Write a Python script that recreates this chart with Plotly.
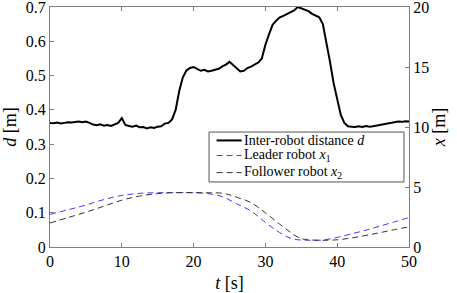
import numpy as np
import plotly.graph_objects as go

# Inter-robot distance d [m], sampled every 0.5 s
t_d = [i * 0.5 for i in range(101)]
d = [0.362, 0.361, 0.363, 0.360, 0.362, 0.364, 0.363, 0.365, 0.366, 0.364, 0.366,
     0.362, 0.357, 0.355, 0.358, 0.354, 0.356, 0.353, 0.357, 0.362, 0.376,
     0.356, 0.353, 0.351, 0.354, 0.349, 0.350, 0.346, 0.349, 0.347, 0.351,
     0.352, 0.360, 0.362, 0.372, 0.400, 0.455, 0.495, 0.515, 0.522, 0.525,
     0.520, 0.514, 0.517, 0.512, 0.514, 0.516, 0.520, 0.527, 0.532, 0.540,
     0.530, 0.520, 0.512, 0.514, 0.522, 0.526, 0.532, 0.538, 0.550, 0.590,
     0.620, 0.648, 0.660, 0.670, 0.674, 0.680, 0.686, 0.690, 0.700, 0.696,
     0.690, 0.688, 0.680, 0.676, 0.670, 0.650, 0.600, 0.540, 0.478, 0.430,
     0.385, 0.362, 0.352, 0.351, 0.350, 0.352, 0.350, 0.353, 0.351, 0.352,
     0.354, 0.356, 0.357, 0.359, 0.362, 0.365, 0.366, 0.365, 0.367, 0.366]

# Leader robot position x1 [m]
t_x1 = [0, 2.5, 5, 7.5, 10, 12.5, 15, 17.5, 20, 22, 24, 26, 28, 30, 31, 32, 33, 34, 35, 36, 38, 40, 42, 44, 46, 48, 50]
x1 = [2.72, 3.1, 3.5, 3.95, 4.3, 4.47, 4.52, 4.53, 4.52, 4.45, 4.2, 3.6, 3.0, 2.05, 1.6, 1.2, 0.85, 0.65, 0.58, 0.56, 0.58, 0.8, 1.1, 1.4, 1.75, 2.1, 2.45]

# Follower robot position x2 [m]
t_x2 = [0, 2.5, 5, 7.5, 10, 12.5, 15, 17.5, 20, 22, 24, 25, 26, 28, 30, 32, 33, 34, 35, 36, 38, 40, 42, 44, 46, 48, 50]
x2 = [2.0, 2.45, 2.9, 3.4, 3.9, 4.25, 4.45, 4.53, 4.53, 4.52, 4.48, 4.35, 4.15, 3.7, 2.85, 1.9, 1.45, 1.0, 0.7, 0.6, 0.56, 0.6, 0.75, 0.97, 1.2, 1.45, 1.68]

x_ticks = [0, 10, 20, 30, 40, 50]
d_ticks = [0, 0.1, 0.2, 0.3, 0.4, 0.5, 0.6, 0.7]
x_pos_ticks = [0, 5, 10, 15, 20]

series_names = ["Inter-robot distance <i>d</i>",
                "Leader robot <i>x</i><sub>1</sub>",
                "Follower robot <i>x</i><sub>2</sub>"]
series_colors = ["black", "#3b3bff", "#333333"]
series_widths = [2, 1, 1]
series_dash = ["solid", "6px,4px", "6px,4px"]

FONT = "Liberation Serif"
AX = "#808080"

fig = go.Figure()
fig.add_trace(go.Scatter(x=t_d, y=d, mode="lines", name=series_names[0],
                         line=dict(color=series_colors[0], width=series_widths[0]), yaxis="y"))
fig.add_trace(go.Scatter(x=t_x1, y=x1, mode="lines", name=series_names[1],
                         line=dict(color=series_colors[1], width=series_widths[1],
                                   dash=series_dash[1], shape="spline"), yaxis="y2"))
fig.add_trace(go.Scatter(x=t_x2, y=x2, mode="lines", name=series_names[2],
                         line=dict(color=series_colors[2], width=series_widths[2],
                                   dash=series_dash[2], shape="spline"), yaxis="y2"))

# Compact legend box (MATLAB style) built in paper coordinates
box = dict(x0=0.443, x1=0.986, y0=0.271, y1=0.479)
row_y = [0.444, 0.381, 0.310]
shapes = [dict(type="rect", xref="paper", yref="paper", layer="above",
               fillcolor="white", line=dict(color="#555", width=1), **box)]
annotations = []
for name, col, w, dsh, yy in zip(series_names, series_colors, series_widths, series_dash, row_y):
    shapes.append(dict(type="line", xref="paper", yref="paper", layer="above",
                       x0=0.464, x1=0.534, y0=yy, y1=yy,
                       line=dict(color=col, width=w, dash=dsh)))
    annotations.append(dict(xref="paper", yref="paper", x=0.536, y=yy,
                            xanchor="left", yanchor="middle", showarrow=False,
                            text=name, font=dict(family=FONT, size=14, color="black")))

fig.update_layout(
    width=457, height=293,
    margin=dict(l=50, r=48, t=7, b=46),
    paper_bgcolor="white", plot_bgcolor="white",
    font=dict(family=FONT, size=16, color="black"),
    showlegend=False,
    shapes=shapes, annotations=annotations,
    xaxis=dict(range=[0, 50], tickvals=x_ticks, ticks="inside", ticklen=4,
               showline=True, linecolor=AX, linewidth=1, mirror="ticks",
               tickcolor=AX, showgrid=False, zeroline=False, automargin=False,
               ticklabeloverflow="allow",
               title=dict(text="<i>t</i> [s]", standoff=7, font=dict(size=18))),
    yaxis=dict(range=[0, 0.7], tickvals=d_ticks, ticks="inside", ticklen=4,
               showline=True, linecolor=AX, linewidth=1, automargin=False,
               tickcolor=AX, showgrid=False, zeroline=False,
               ticklabeloverflow="allow",
               title=dict(text="<i>d</i> [m]", standoff=4, font=dict(size=18))),
    yaxis2=dict(range=[0, 20], tickvals=x_pos_ticks, ticks="inside", ticklen=4,
                overlaying="y", side="right", automargin=False,
                showline=True, linecolor=AX, linewidth=1,
                tickcolor=AX, showgrid=False, zeroline=False,
                ticklabeloverflow="allow",
                title=dict(text="<i>x</i> [m]", standoff=4, font=dict(size=18))),
)

fig.write_html("out.html", config={"displayModeBar": False},
               post_script="document.body.style.margin='0';")
